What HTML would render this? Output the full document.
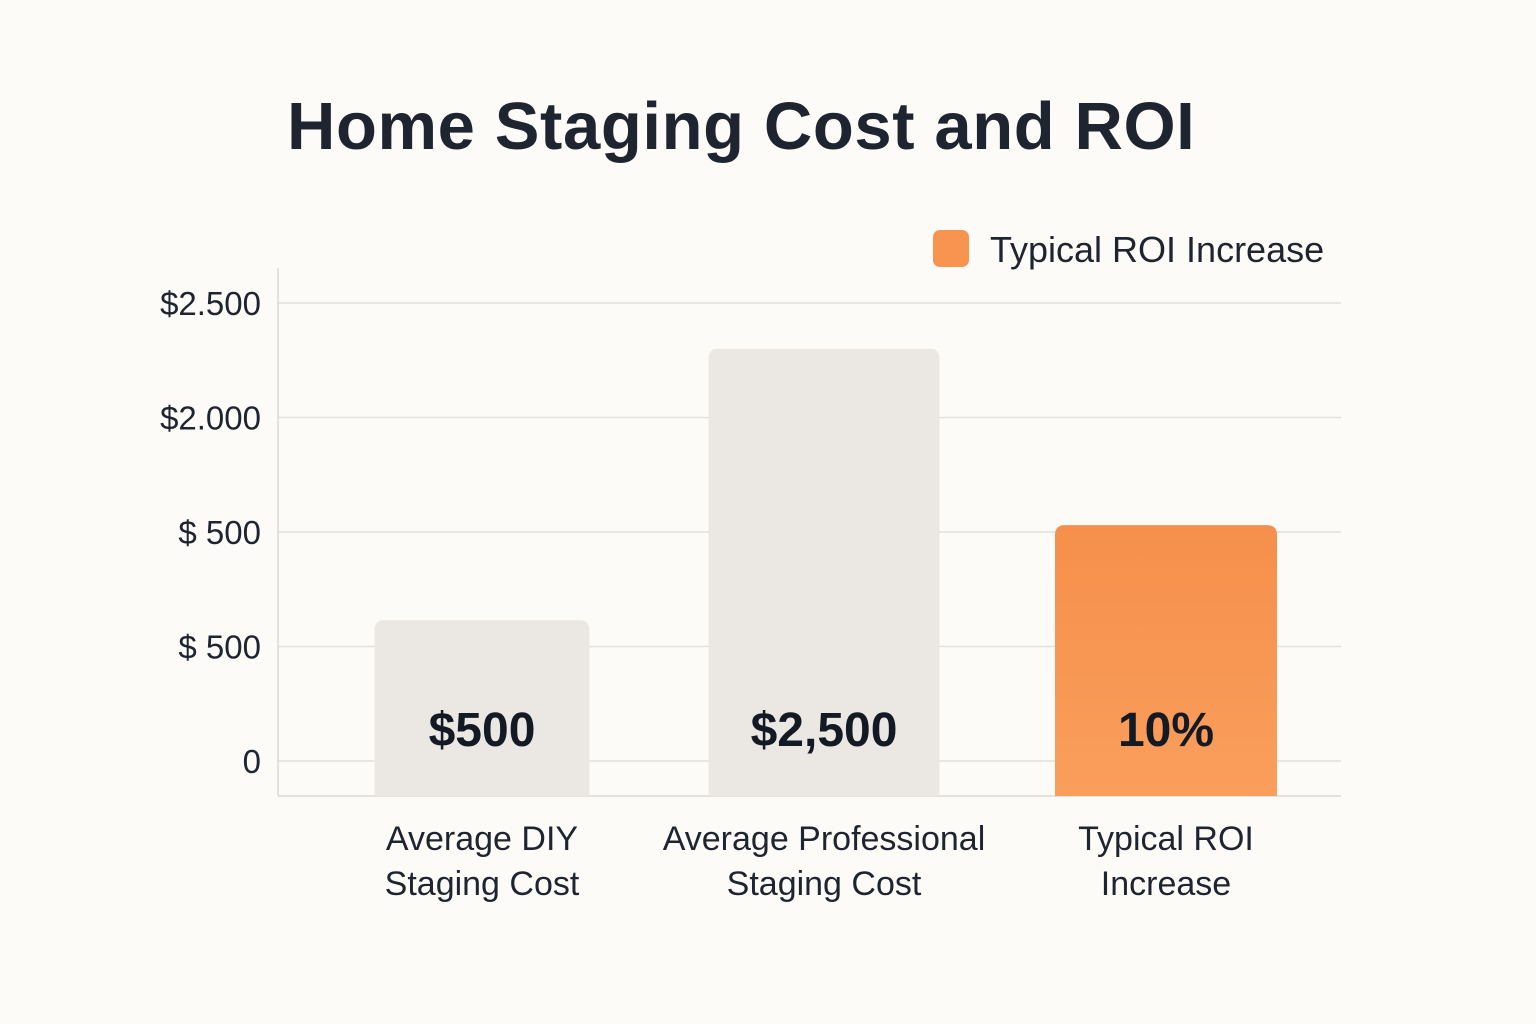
<!DOCTYPE html>
<html><head><meta charset="utf-8"><style>
body{margin:0;background:#fcfbf7;}
svg{display:block;font-family:"Liberation Sans",sans-serif;}
</style></head><body>
<svg id="chart" width="1536" height="1024" viewBox="0 0 1536 1024">
<rect width="1536" height="1024" fill="#fcfbf7"/>
<defs><linearGradient id="og" x1="0" y1="0" x2="0" y2="1"><stop offset="0" stop-color="#f68f4c"/><stop offset="1" stop-color="#fa9e5c"/></linearGradient></defs>
<text x="287" y="149" font-size="67" font-weight="bold" letter-spacing="0.6" fill="#1f2530">Home Staging Cost and ROI</text>
<g>
<rect x="933" y="230" width="36" height="37" rx="7" fill="#f7944f"/>
<text x="990" y="262" font-size="36" fill="#1f2530">Typical ROI Increase</text>
</g>
<g id="grid"></g><g id="bars"></g><g id="labels"></g>
</svg>
<script>
const categories = [["Average DIY","Staging Cost"],["Average Professional","Staging Cost"],["Typical ROI","Increase"]];
const values = [1.23, 3.6, 2.06];
const valueLabels = ["$500","$2,500","10%"];
const tickValues = [0,1,2,3,4];
const tickLabels = ["0","$ 500","$ 500","$2.000","$2.500"];
const NS="http://www.w3.org/2000/svg";
const y = v => 761 - v*114.5;
const x = i => 482 + i*342;
const barW = [215, 231, 222];
const baseY = 796, left = 278, right = 1341;
function mk(tag, attrs, parent){const e=document.createElementNS(NS,tag);for(const k in attrs)e.setAttribute(k,attrs[k]);parent.appendChild(e);return e;}
const grid=document.getElementById('grid'), bars=document.getElementById('bars'), labels=document.getElementById('labels');
tickValues.forEach((t,i)=>{
  const l=mk('line',{x1:left,x2:right,y1:y(t),y2:y(t),stroke:'#e2e0dc','stroke-width':1.5},grid);
  
  
  const tx=mk('text',{x:261,y:y(t)+12,'text-anchor':'end','font-size':33,fill:'#1f2530'},grid);
  tx.textContent=tickLabels[i];
  
  
});
const ax=mk('line',{x1:left,x2:left,y1:268,y2:baseY,stroke:'#dcdad6','stroke-width':1.5},grid);


const bx=mk('line',{x1:left,x2:right,y1:baseY,y2:baseY,stroke:'#dcdad6','stroke-width':1.5},grid);


values.forEach((v,i)=>{
  const w=barW[i], top=y(v), cx=x(i), r=10, x0=cx-w/2;
  const d=`M${x0},${baseY} L${x0},${top+r} Q${x0},${top} ${x0+r},${top} L${x0+w-r},${top} Q${x0+w},${top} ${x0+w},${top+r} L${x0+w},${baseY} Z`;
  const p=mk('path',{d:d,fill:i===2?'url(#og)':'#ebe8e4'},bars);
  
  
  const vt=mk('text',{x:cx,y:746,'text-anchor':'middle','font-size':48,'font-weight':'bold',fill:'#141a24'},labels);
  vt.textContent=valueLabels[i];
  
  
  categories[i].forEach((line,j)=>{
    const ct=mk('text',{x:cx,y:850+j*45,'text-anchor':'middle','font-size':34,fill:'#1f2530'},labels);
    ct.textContent=line;
    
    
  });
});
</script>
</body></html>
